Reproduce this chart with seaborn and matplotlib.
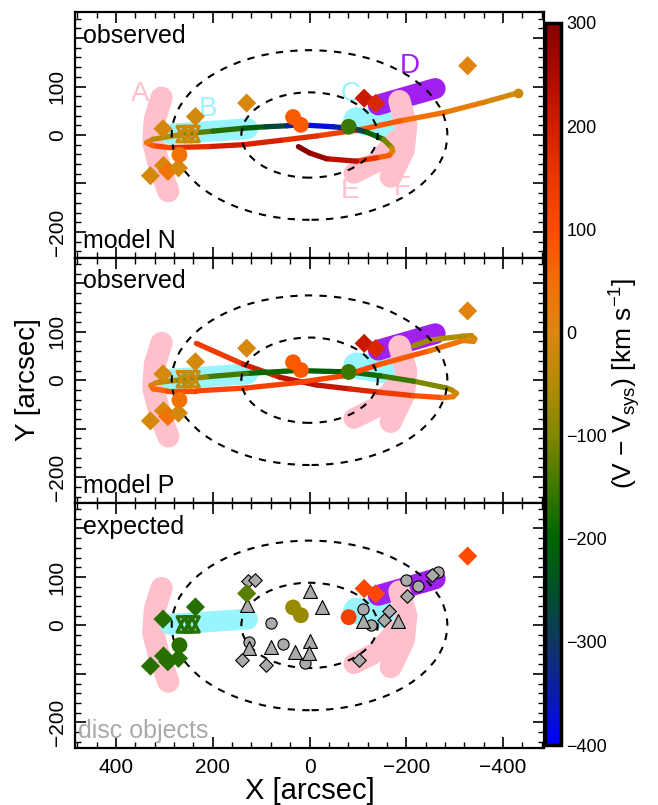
import matplotlib
matplotlib.use('Agg')
import matplotlib.pyplot as plt
import numpy as np
import seaborn as sns
from matplotlib.collections import LineCollection
from matplotlib.colors import LinearSegmentedColormap, Normalize
from matplotlib.patches import Ellipse
from matplotlib.ticker import MultipleLocator
import matplotlib.cm as cm

sns.set_style('ticks')
plt.rcParams['font.family'] = ['Liberation Sans', 'DejaVu Sans']
plt.rcParams['mathtext.default'] = 'regular'
for k in ['text.color', 'axes.labelcolor', 'xtick.color', 'ytick.color', 'axes.edgecolor']:
    plt.rcParams[k] = 'black'

# velocity colour scale (km/s)
vel_min, vel_max = -400, 300
cbar_ticks = [-400, -300, -200, -100, 0, 100, 200, 300]
cmap_vals = [-400, -350, -300, -250, -200, -150, -100, -50, 0, 50, 100, 150, 200, 250, 300]
cmap_cols = ['#0000ff', '#0a1eaa', '#0f375f', '#005028', '#006400', '#3c7800', '#828700',
             '#b48c00', '#dc870f', '#f56e00', '#ff4b00', '#eb3700', '#d21e00', '#af0a00', '#870000']

# streams (pink / cyan / purple streaks)
stream_A_x = [306, 320, 323, 309, 292]
stream_A_y = [77, 32, -16, -71, -116]
stream_B_x = [288, 128]
stream_B_y = [2, 13]
stream_C_x = [-97, -160]
stream_C_y = [30, 20]
stream_D_x = [-142, -260]
stream_D_y = [62, 96]
stream_E_x = [-92, -140, -180]
stream_E_y = [-79, -55, -10]
stream_F_x = [-186, -200, -195, -168]
stream_F_y = [70, 20, -30, -86]
stream_labels = ['A', 'B', 'C', 'D', 'E', 'F']
stream_label_x = [350, 209, -84, -208, -84, -191]
stream_label_y = [84, 53, 84, 142, -116, -109]

# objects with measured velocities
obj_diam_x = [303, 236, 130, 329, 302, 293, 271, -327, -113, -137]
obj_diam_y = [13, 38, 66, -84, -63, -75, -68, 143, 76, 65]
obj_diam_v_obs = [-10, -10, -5, -10, -5, 40, -10, 10, 210, 180]
obj_diam_v_exp = [-170, -170, -130, -170, -170, -170, -170, 100, 110, 110]
obj_circ_x = [269, 34, 18, -81]
obj_circ_y = [-41, 37, 21, 17]
obj_circ_v_obs = [40, 80, 80, -150]
obj_circ_v_exp = [-170, -80, -80, 130]
obj_star_x = [258, 244]
obj_star_y = [2, 2]
obj_star_v_obs = [-20, -20]
obj_star_v_exp = [-170, -170]

# disc objects (grey)
disc_circ_x = [80, 125, 54, 10, -111, -127, -199, -225, -265]
disc_circ_y = [5, -34, -39, -77, 34, 0, 93, 81, 110]
disc_tri_x = [-2, -25, 129, 125, 79, 31, -1, 1, -111, -184]
disc_tri_y = [71, 38, 43, -47, -45, -55, -32, -57, 9, 10]
disc_diam_x = [128, 113, 140, 89, -102, -164, -155, -201, -253]
disc_diam_y = [91, 93, -71, -81, -71, 29, 12, 60, 103]

# model orbit N
orbN_x = [-431, -359, -277, -187, -104, -15, 60, 137, 210, 289, 324, 337, 324, 254, 200, 137,
          90, 47, 20, -49, -91, -118, -153, -170, -172, -165, -139, -97, -35, 0, 23]
orbN_y = [87, 67, 46, 29, 11, -2, -11, -20, -24, -26, -22, -16, -9, 3, 8, 14,
          17, 19, 21, 17, 13, 6, -9, -26, -33, -42, -47, -54, -49, -37, -24]
orbN_v = [-20, 0, 40, 60, 100, 150, 180, 200, 200, 130, 100, 50, 0, -100, -150, -190,
          -240, -290, -380, -380, -320, -230, -150, -60, -10, 40, 110, 200, 260, 290, 300]

# model orbit P
orbP_x = [234, 137, 61, -15, -84, -146, -215, -276, -297, -304, -294, -283, -215, -146, -84, 26, 130,
          213, 282, 316, 328, 323, 295, 234, 130, 26, -70, -146, -249, -318, -339, -342, -335,
          -318, -249, -215]
orbP_y = [76, 33, 6, -10, -18, -25, -32, -36, -34, -27, -20, -16, -2, 9, 17, 20, 14,
          7, -1, -5, -11, -18, -22, -22, -16, -5, 9, 33, 61, 82, 80, 85, 92,
          91, 83, 71]
orbP_v = [110, 170, 230, 240, 200, 160, 120, 60, 30, 0, -40, -70, -130, -170, -200, -210, -170,
          -120, -60, -20, 10, 50, 80, 110, 120, 120, 110, 100, 60, 30, 10, 0, -20,
          -40, -70, -80]

panel_top = ['observed', 'observed', 'expected']
panel_bottom = ['model N', 'model P', 'disc objects']

cmap = LinearSegmentedColormap.from_list(
    'vel', [((v - vel_min) / (vel_max - vel_min), c) for v, c in zip(cmap_vals, cmap_cols)])
norm = Normalize(vel_min, vel_max)

PINK, CYAN, PURPLE = '#ffc0cb', '#98f5ff', '#a020f0'


def draw_streams(ax, letters):
    for xs, ys, col, lw in [(stream_A_x, stream_A_y, PINK, 16), (stream_B_x, stream_B_y, CYAN, 15),
                            (stream_C_x, stream_C_y, CYAN, 19), (stream_D_x, stream_D_y, PURPLE, 15),
                            (stream_E_x, stream_E_y, PINK, 15), (stream_F_x, stream_F_y, PINK, 16)]:
        ax.plot(xs, ys, color=col, lw=lw, solid_capstyle='round', solid_joinstyle='round', zorder=1)
    if letters:
        cols = [PINK, CYAN, CYAN, PURPLE, PINK, PINK]
        for t, x, y, c in zip(stream_labels, stream_label_x, stream_label_y, cols):
            ax.text(x, y, t, color=c, fontsize=20, ha='center', va='center', zorder=2)


def draw_orbit(ax, xs, ys, vs):
    pts = np.column_stack([xs, ys])
    segs = np.stack([pts[:-1], pts[1:]], axis=1)
    seg_v = (np.array(vs[:-1]) + np.array(vs[1:])) / 2
    lc = LineCollection(segs, cmap=cmap, norm=norm, linewidths=3.8, capstyle='round',
                        joinstyle='round', zorder=3)
    lc.set_array(seg_v)
    ax.add_collection(lc)


def draw_objects(ax, dv, cv, sv):
    sns.scatterplot(x=obj_diam_x, y=obj_diam_y, hue=dv, palette=cmap, hue_norm=norm, marker='D',
                    s=95, linewidth=0, legend=False, ax=ax, zorder=6)
    sns.scatterplot(x=obj_circ_x, y=obj_circ_y, hue=cv, palette=cmap, hue_norm=norm, marker='o',
                    s=130, linewidth=0, legend=False, ax=ax, zorder=6)
    scol = [cmap(norm(v)) for v in sv]
    for m in ['^', 'v']:
        ax.scatter(obj_star_x, obj_star_y, marker=m, s=120, facecolors='none', edgecolors=scol,
                   linewidths=2.4, zorder=6)


fig = plt.figure(figsize=(6.58, 8.05), dpi=100)
bottoms = [0.680, 0.3754, 0.0708]
axes = [fig.add_axes([0.114, b, 0.7128, 0.3046]) for b in bottoms]

for i, ax in enumerate(axes):
    draw_streams(ax, i == 0)
    if i == 0:
        draw_orbit(ax, orbN_x, orbN_y, orbN_v)
        ax.plot(orbN_x[0], orbN_y[0], 'o', ms=6, color=cmap(norm(orbN_v[0])), zorder=4)
    elif i == 1:
        draw_orbit(ax, orbP_x, orbP_y, orbP_v)
    for w, h in [(570, 350), (282, 176)]:
        ax.add_patch(Ellipse((0, 0), w, h, fill=False, ec='black', lw=1.5,
                             ls=(0, (3.5, 3.5)), zorder=4))
    if i < 2:
        draw_objects(ax, obj_diam_v_obs, obj_circ_v_obs, obj_star_v_obs)
    else:
        draw_objects(ax, obj_diam_v_exp, obj_circ_v_exp, obj_star_v_exp)
        grey = dict(color='#aaaaaa', edgecolor='black', linewidth=0.8, legend=False, ax=ax, zorder=5)
        sns.scatterplot(x=disc_circ_x, y=disc_circ_y, marker='o', s=65, **grey)
        sns.scatterplot(x=disc_tri_x, y=disc_tri_y, marker='^', s=100, **grey)
        sns.scatterplot(x=disc_diam_x, y=disc_diam_y, marker='D', s=48, **grey)

    ax.set_xlim(485, -485)
    ax.set_ylim(-253, 253)
    ax.set_xlabel('')
    ax.set_ylabel('')
    ax.set_xticks([400, 200, 0, -200, -400])
    ax.xaxis.set_minor_locator(MultipleLocator(40))
    ax.set_yticks([-200, -100, 0, 100, 200])
    ax.set_yticklabels(['\u2212200', '', '0', '100', ''], rotation=90, va='center')
    ax.yaxis.set_minor_locator(MultipleLocator(20))
    ax.tick_params(which='both', direction='in', top=True, right=True, labelsize=15)
    ax.tick_params(which='major', length=8, width=1.2)
    ax.tick_params(which='minor', length=4, width=1.0)
    ax.tick_params(axis='x', pad=7)
    ax.tick_params(axis='y', pad=6)
    if i < 2:
        ax.tick_params(axis='x', labelbottom=False)
    for sp in ax.spines.values():
        sp.set_linewidth(1.6)
    ax.text(0.017, 0.952, panel_top[i], transform=ax.transAxes, fontsize=18, va='top', ha='left', zorder=8)
    bcol = '#aaaaaa' if i == 2 else 'black'
    bx = 0.006 if i == 2 else 0.017
    ax.text(bx, 0.04, panel_bottom[i], transform=ax.transAxes, fontsize=18, va='baseline',
            ha='left', color=bcol, zorder=8)

fig.text(28 / 658, 0.528, 'Y [arcsec]', rotation=90, fontsize=20, ha='center', va='center')
fig.text(0.471, 0.017, 'X [arcsec]', fontsize=21, ha='center', va='center')

cax = fig.add_axes([0.829, 0.0745, 0.023, 0.897])
sm = cm.ScalarMappable(norm=norm, cmap=cmap)
cb = fig.colorbar(sm, cax=cax)
cb.set_ticks(cbar_ticks)
cb.outline.set_linewidth(2.5)
cax.tick_params(length=0, labelsize=13, pad=4)
fig.text(0.95, 0.524, r'(V $-$ V$_{sys}$) [km s$^{-1}$]', rotation=90, fontsize=19,
         ha='center', va='center')

fig.savefig('out.png', dpi=100)
